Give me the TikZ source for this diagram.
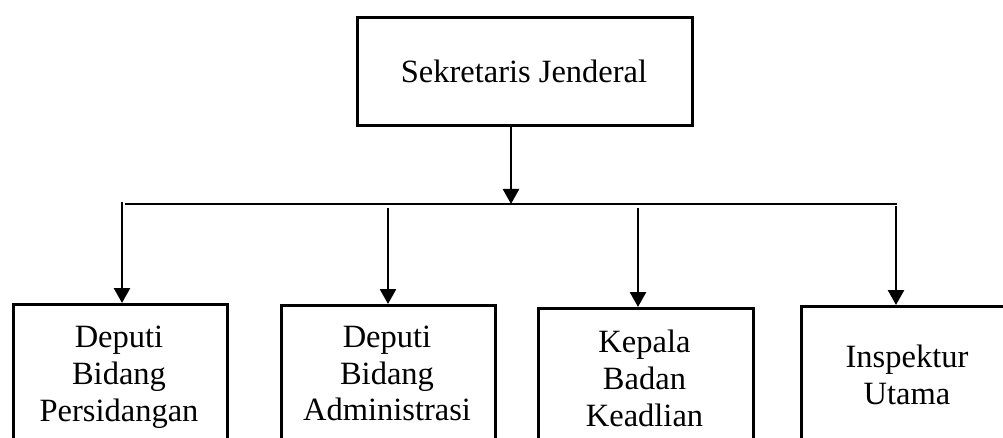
\documentclass[tikz,border=0pt]{standalone}
\usepackage{fontspec}
\setmainfont{Liberation Serif}
\usetikzlibrary{arrows.meta}
\begin{document}
\begin{tikzpicture}[x=1pt,y=-1pt,
  box/.style={draw, line width=2.9pt, inner sep=0pt, anchor=north west},
  txt/.style={font=\fontsize{32.5}{36.8}\selectfont, align=center, inner sep=0pt},
  conn/.style={line width=2.6pt, -{Triangle[length=15pt,width=16pt]}},
  bus/.style={line width=1.4pt}]
\clip (0,0) rectangle (1003,438);
\fill[white] (0,0) rectangle (1003,438);
% boxes
\node[box, minimum width=335pt, minimum height=108pt] (sj) at (356,16) {};
\node[box, minimum width=214pt, minimum height=200pt] (b1) at (12,303) {};
\node[box, minimum width=214pt, minimum height=200pt] (b2) at (280,304) {};
\node[box, minimum width=215pt, minimum height=200pt] (b3) at (537,307) {};
\node[box, minimum width=214pt, minimum height=200pt] (b4) at (800,305) {};
% texts
\node[txt, anchor=base] (t0) at (524,83) {Sekretaris Jenderal};
\node[txt] (t1) at (119,377) {Deputi\\Bidang\\Persidangan};
\node[txt] (t2) at (387,373.5) {Deputi\\Bidang\\Administrasi};
\node[txt] (t3) at (644.5,378.5) {Kepala\\Badan\\Keadlian};
\node[txt] (t4) at (907,375) {Inspektur\\Utama};
% bus
\coordinate (busL) at (125,204);
\coordinate (busR) at (897,204);
\coordinate (j) at (511,204);
\draw[bus] (busL) -- (busR);
\draw[conn] (sj.south -| j) -- (j);
\coordinate (s1) at (122,202);
\coordinate (s2) at (388,208);
\coordinate (s3) at (638,208);
\coordinate (s4) at (896,206);
\draw[conn] (s1) -- (s1 |- b1.north);
\draw[conn] (s2) -- (s2 |- b2.north);
\draw[conn] (s3) -- (s3 |- b3.north);
\draw[conn] (s4) -- (s4 |- b4.north);
\end{tikzpicture}
\end{document}
